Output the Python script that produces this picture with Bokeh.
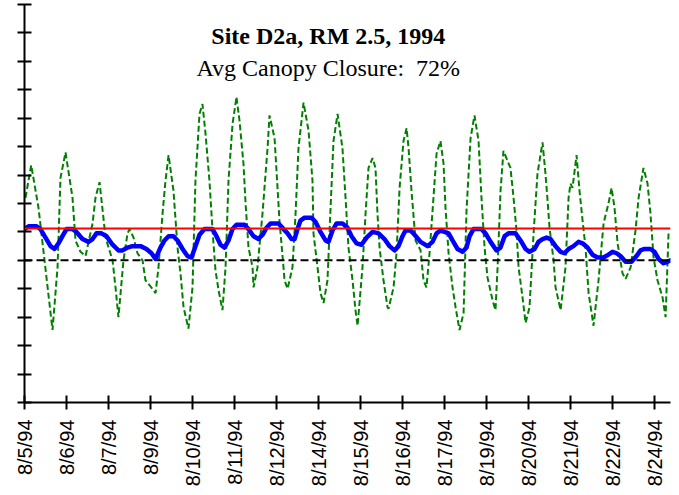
import math
from bokeh.plotting import figure
from bokeh.models import Range1d, FixedTicker, Span, Label
from bokeh.embed import file_html
from bokeh.resources import INLINE

# ---- data (hours since first reading, temperature) ----
tick_hours = [0, 30, 60, 90, 120, 150, 180, 210, 240, 270, 300, 330, 360, 390, 420, 450]
tick_labels = ["8/5/94", "8/6/94", "8/7/94", "8/9/94", "8/10/94", "8/11/94", "8/12/94", "8/14/94",
               "8/15/94", "8/16/94", "8/17/94", "8/19/94", "8/20/94", "8/21/94", "8/22/94", "8/24/94"]
y_ticks = [0, 2, 4, 6, 8, 10, 12, 14, 16, 18, 20, 22, 24, 26, 28]

air_hours = [0.7, 4.8, 10.0, 20.0, 23.6, 25.7, 29.3, 34.3, 36.4, 40.0, 43.6, 48.6, 50.7, 53.6, 57.9,
             62.9, 65.0, 67.1, 70.7, 73.6, 75.0, 77.9, 80.7, 84.3, 86.4, 91.4, 93.6, 95.7, 98.6, 100.7,
             102.9, 106.4, 109.3, 111.4, 113.6, 117.1, 120.0, 122.1, 125.0, 127.1, 129.3, 132.1, 134.3,
             136.4, 138.6, 141.4, 143.6, 145.7, 148.6, 151.4, 153.6, 156.4, 157.9, 160.0, 162.9, 163.6,
             166.4, 170.0, 173.6, 175.0, 178.6, 180.0, 182.1, 185.0, 185.7, 187.9, 191.4, 193.6, 195.7,
             199.3, 202.9, 205.7, 206.4, 209.3, 211.4, 213.6, 216.4, 218.6, 220.7, 223.6, 227.1, 229.3,
             231.4, 234.3, 236.4, 237.9, 241.4, 243.6, 245.7, 248.6, 250.7, 252.1, 253.6, 256.4, 259.3,
             260.0, 263.6, 265.7, 267.9, 270.7, 272.9, 274.3, 276.4, 279.3, 282.9, 285.0, 287.1, 289.3,
             292.1, 294.3, 297.1, 299.3, 300.7, 302.9, 305.7, 307.9, 310.7, 313.6, 315.7, 318.6, 321.4,
             324.3, 326.4, 328.6, 330.7, 334.3, 336.4, 337.9, 340.0, 342.1, 345.0, 347.1, 349.3, 351.4,
             352.9, 355.7, 357.9, 360.7, 363.6, 366.4, 370.0, 372.1, 373.6, 375.0, 377.9, 379.3, 382.9,
             386.4, 388.6, 390.0, 391.4, 394.3, 396.4, 398.6, 400.7, 402.9, 406.4, 410.0, 413.6, 417.1,
             419.3, 421.4, 423.6, 427.1, 429.3, 432.9, 436.4, 438.6, 442.1, 445.0, 447.1, 449.3, 452.1,
             455.7, 457.9, 460.0]
air_temp = [14.4, 16.7, 13.7, 5.1, 9.5, 15.8, 17.6, 14.4, 11.4, 10.6, 10.3, 12.6, 14.4, 15.5, 11.6,
            10.0, 8.1, 6.0, 10.0, 11.9, 12.2, 11.6, 10.5, 10.0, 8.6, 8.0, 7.7, 9.5, 13.3, 15.6,
            17.4, 14.9, 10.9, 9.1, 6.7, 5.2, 8.1, 15.6, 20.3, 21.0, 18.9, 15.6, 12.1,
            9.3, 7.9, 6.5, 9.5, 15.6, 19.6, 21.5, 19.8, 16.8, 14.0, 10.9, 9.5, 8.1,
            9.5, 13.3, 17.9, 20.2, 18.6, 16.3, 12.8, 9.5, 8.6, 8.0, 9.5, 13.3, 17.9,
            21.1, 19.1, 15.6, 11.9, 9.5, 7.7, 7.0, 8.6, 13.7, 18.4, 20.3, 17.9, 14.4,
            10.9, 8.6, 6.5, 5.4, 9.5, 13.3, 16.5, 17.2, 16.5, 13.3, 10.9, 8.6, 6.7,
            6.6, 8.1, 10.5, 15.1, 18.4, 19.3, 17.9, 14.9, 11.4, 10.7, 8.6, 8.1, 10.5,
            14.4, 17.5, 18.4, 16.8, 13.7, 10.5, 8.1, 6.7, 5.1, 6.3, 13.5, 18.6, 20.2,
            18.4, 14.4, 10.9, 8.8, 7.2, 6.5, 9.5, 14.9, 17.7, 17.0, 16.5, 14.4, 12.1,
            9.5, 7.4, 5.6, 6.7, 11.9, 16.1, 18.3, 16.1, 14.2, 12.3, 10.0, 8.1, 6.5,
            9.5, 14.4, 15.4, 15.1, 17.4, 14.9, 12.8, 10.9, 7.7, 5.4, 8.6, 12.6, 14.0,
            15.1, 13.7, 11.2, 9.1, 8.7, 9.5, 12.1, 14.4, 16.5, 15.4, 13.3, 10.2, 8.6,
            7.4, 6.0, 11.9]

water_hours = [0.0, 2.9, 8.6, 11.4, 15.0, 18.6, 21.4, 24.3, 27.1, 30.0, 34.3, 37.1, 41.4, 45.7, 48.6,
               51.4, 55.0, 58.6, 62.9, 67.1, 70.0, 73.6, 77.1, 82.9, 87.1, 90.7, 93.6, 97.1, 100.0,
               102.9, 106.4, 109.3, 112.9, 116.4, 119.3, 122.1, 125.0, 128.6, 134.3, 137.1, 140.0,
               142.9, 145.7, 148.6, 151.4, 157.1, 160.0, 163.6, 167.1, 170.0, 172.9, 175.7, 181.4,
               185.0, 187.9, 190.7, 192.9, 195.0, 197.1, 200.0, 205.0, 207.9, 211.4, 215.0, 217.1,
               220.0, 222.9, 227.1, 230.7, 233.6, 237.1, 240.7, 244.3, 248.6, 252.9, 257.1, 260.7,
               264.3, 267.1, 270.0, 272.1, 275.7, 278.6, 282.9, 287.9, 291.4, 294.3, 297.1, 300.0,
               302.9, 305.7, 309.3, 312.9, 315.7, 317.9, 320.7, 326.4, 329.3, 332.9, 337.1, 340.0,
               342.9, 345.7, 350.7, 354.3, 357.9, 360.7, 364.3, 367.1, 370.0, 372.9, 375.7, 379.3,
               382.9, 385.7, 388.6, 392.1, 395.7, 398.6, 402.1, 405.7, 409.3, 413.6, 417.1, 420.0,
               422.9, 425.7, 429.3, 433.6, 437.1, 440.0, 442.9, 447.1, 450.0, 452.9, 456.4, 459.3, 461.4]
water_temp = [12.2, 12.4, 12.4, 12.2, 11.6, 11.0, 10.8, 11.2, 11.7, 12.2, 12.2, 12.0, 11.5, 11.3, 11.5,
              11.9, 11.9, 11.7, 11.1, 10.7, 10.7, 10.9, 11.0, 11.0, 10.8, 10.5, 10.1, 10.9, 11.4,
              11.7, 11.7, 11.4, 10.8, 10.3, 10.2, 11.0, 11.8, 12.2, 12.2, 11.7, 11.1,
              10.9, 11.4, 12.2, 12.5, 12.5, 12.2, 11.7, 11.5, 11.8, 12.3, 12.6, 12.6,
              12.2, 11.9, 11.5, 11.5, 12.2, 12.8, 13.0, 13.0, 12.7, 12.0, 11.4, 11.3,
              12.1, 12.6, 12.6, 12.3, 11.7, 11.2, 11.1, 11.6, 12.0, 11.9, 11.5, 11.0,
              10.7, 11.0, 11.7, 12.1, 12.1, 11.8, 11.3, 11.0, 11.3, 11.9, 12.1, 12.0,
              11.9, 11.4, 10.8, 10.6, 10.9, 11.7, 12.2, 12.2, 11.9, 11.3, 10.7, 10.9,
              11.7, 11.9, 11.9, 11.4, 10.8, 10.6, 10.8, 11.3, 11.5, 11.6, 11.5, 11.0,
              10.6, 10.5, 10.8, 11.0, 11.3, 11.2, 10.9, 10.4, 10.2, 10.2, 10.4, 10.6,
              10.5, 10.3, 9.9, 9.9, 10.3, 10.7, 10.8, 10.8, 10.6, 10.1, 9.8, 9.9, 10.0]

red_level = 12.25
dashed_level = 10.0

title_text = "Site D2a, RM 2.5, 1994"
subtitle_text = "Avg Canopy Closure:\u00a0 72%"

p = figure(width=679, height=495, output_backend="svg", toolbar_location=None,
           x_range=Range1d(0, 461.4), y_range=Range1d(0, 28),
           min_border_left=24, min_border_right=9, min_border_top=4, min_border_bottom=93)
p.outline_line_color = None
p.xgrid.grid_line_color = None
p.ygrid.grid_line_color = None
p.background_fill_color = "white"
p.border_fill_color = "white"

# axes
p.xaxis.ticker = FixedTicker(ticks=tick_hours)
p.xaxis.major_label_overrides = {h: t for h, t in zip(tick_hours, tick_labels)}
p.xaxis.major_label_orientation = math.pi / 2
p.xaxis.major_label_text_font = "Liberation Sans"
p.xaxis.major_label_text_font_size = "20px"
p.xaxis.major_label_text_color = "black"
p.xaxis.major_label_standoff = 10
p.yaxis.ticker = FixedTicker(ticks=y_ticks)
p.yaxis.major_label_overrides = {t: "" for t in y_ticks}
for ax in (p.xaxis, p.yaxis):
    ax.axis_line_width = 2
    ax.axis_line_color = "black"
    ax.major_tick_line_width = 2
    ax.major_tick_line_color = "black"
    ax.major_tick_in = 7
    ax.major_tick_out = 7
    ax.minor_tick_line_color = None

# reference lines
p.add_layout(Span(location=red_level, dimension="width", line_color="#FF0000", line_width=2))
p.add_layout(Span(location=dashed_level, dimension="width", line_color="black", line_width=2,
                  line_dash="8 4"))

# series
p.line(air_hours, air_temp, line_color="#008000", line_width=2, line_dash="6 3")
p.line(water_hours, water_temp, line_color="#0000FF", line_width=4.5, line_join="round",
       line_cap="round")

# titles
p.add_layout(Label(x=217, y=25.8, text=title_text, text_align="center", text_baseline="alphabetic",
                   text_font="Liberation Serif", text_font_style="bold", text_font_size="24px",
                   text_color="black"))
p.add_layout(Label(x=217, y=23.55, text=subtitle_text, text_align="center", text_baseline="alphabetic",
                   text_font="Liberation Serif", text_font_size="24px", text_color="black"))

open("out.html", "w").write(file_html(p, INLINE))
